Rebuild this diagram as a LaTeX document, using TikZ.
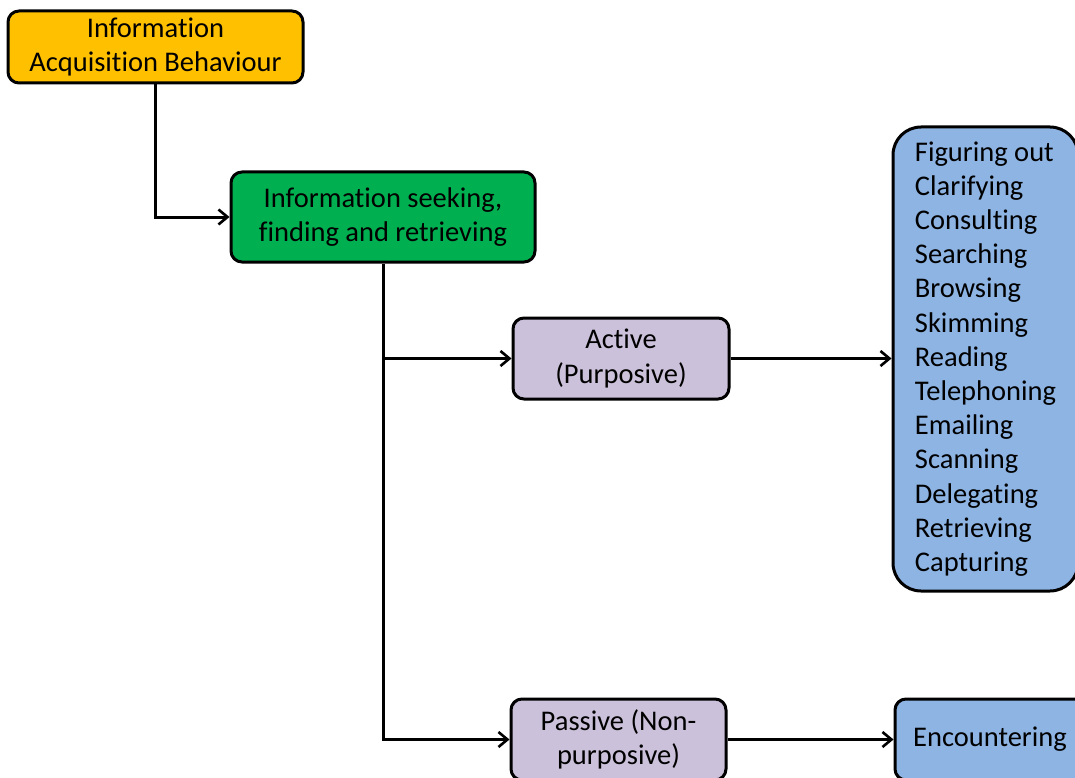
\documentclass[tikz,border=0pt]{standalone}
\usepackage{fontspec}
\setmainfont{Carlito}[Ligatures={NoCommon}]
\usetikzlibrary{arrows.meta}
\definecolor{acqfill}{HTML}{FFC000}
\definecolor{seekfill}{HTML}{00B050}
\definecolor{modefill}{HTML}{CCC1DA}
\definecolor{actfill}{HTML}{8EB4E3}
\begin{document}
\begin{tikzpicture}[x=1pt,y=-1pt,
  box/.style={draw=black, line width=3pt, rounded corners=11pt, inner sep=0pt,
    font=\fontsize{28.5}{34.2}\selectfont, align=center},
  link/.style={draw=black, line width=3pt,
    -{Straight Barb[length=9pt,width=15pt,line width=2.6pt]}}]
\clip (0,0) rectangle (1075,778);

\node[box, fill=acqfill, minimum width=295pt, minimum height=72pt]
  (acq) at (155.5,47) {Information\\Acquisition Behaviour};
\node[box, fill=seekfill, minimum width=304pt, minimum height=90pt]
  (seek) at (383,217) {Information seeking,\\finding and retrieving};
\node[box, fill=modefill, minimum width=216pt, minimum height=81pt]
  (active) at (621,358.5) {Active\\(Purposive)};
\node[box, fill=modefill, minimum width=215pt, minimum height=81pt]
  (passive) at (618.5,739.5) {Passive (Non-\\purposive)};
\node[box, fill=actfill, rounded corners=28pt, align=left,
  minimum width=185pt, minimum height=464pt]
  (acts) at (985.5,359) {Figuring out\\Clarifying\\Consulting\\Searching\\Browsing\\Skimming\\Reading\\Telephoning\\Emailing\\Scanning\\Delegating\\Retrieving\\Capturing};
\node[box, fill=actfill, minimum width=190pt, minimum height=81pt]
  (enc) at (990,739.5) {Encountering};

% connectors
\draw[link] (acq.south) |- (seek.west);
\draw[link] (seek.south) |- (passive.west);
\draw[link] (seek.south |- active.west) -- (active.west);
\draw[link] (active.east) -- (active.east -| acts.west);
\draw[link] (passive.east) -- (passive.east -| enc.west);
\end{tikzpicture}
\end{document}
